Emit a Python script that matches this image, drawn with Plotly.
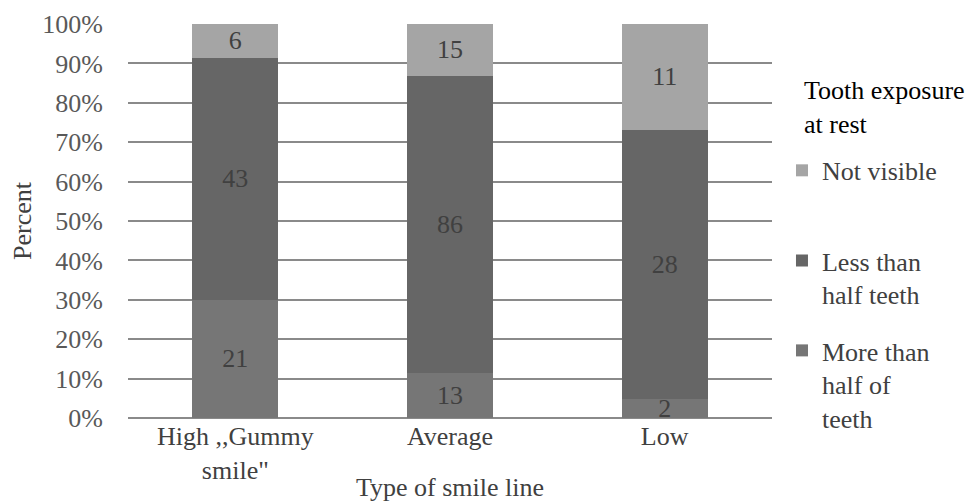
import plotly.graph_objects as go

categories = ['High ,,Gummy<br>smile"', "Average", "Low"]
more_than_half = [21, 13, 2]
less_than_half = [43, 86, 28]
not_visible = [6, 15, 11]
series_names = ["More than<br>half of<br>teeth", "Less than<br>half teeth", "Not visible"]
legend_title = "Tooth exposure<br>at rest"
y_ticks = [0, 10, 20, 30, 40, 50, 60, 70, 80, 90, 100]
y_ticktext = [f"{v}%" for v in y_ticks]

FONT = "Liberation Serif"
FS = 26
colors = ["#767676", "#666666", "#a5a5a5"]
legend_ids = ["legend3", "legend2", "legend"]

fig = go.Figure()
for i, (name, vals) in enumerate(zip(series_names, [more_than_half, less_than_half, not_visible])):
    fig.add_trace(go.Bar(
        x=categories, y=vals, name=name,
        marker=dict(color=colors[i], line=dict(width=0)),
        text=vals, textposition="inside", insidetextanchor="middle", textangle=0,
        textfont=dict(family=FONT, size=FS, color="#404040"),
        legend=legend_ids[i],
    ))

leg_common = dict(
    x=1.0155, xanchor="left", yanchor="top", valign="top",
    font=dict(family=FONT, size=FS, color="#404040"),
    bgcolor="rgba(0,0,0,0)", borderwidth=0,
)

# page body has an 8px margin, so the figure is sized/offset to compensate
fig.update_layout(
    barmode="stack", barnorm="percent", bargap=0.6,
    width=968, height=494,
    margin=dict(l=120, r=204, t=16, b=84, autoexpand=False),
    paper_bgcolor="white", plot_bgcolor="white",
    font=dict(family=FONT, size=FS, color="#404040"),
    uniformtext=dict(minsize=FS, mode="show"),
    showlegend=True,
    legend=dict(y=0.688, **leg_common),
    legend2=dict(y=0.459, **leg_common),
    legend3=dict(y=0.231, **leg_common),
    annotations=[dict(
        text=legend_title, xref="paper", yref="paper",
        x=1.046, y=0.789, xanchor="left", yanchor="middle", align="left",
        showarrow=False, font=dict(family=FONT, size=FS, color="#000000"),
    )],
    xaxis=dict(
        title=dict(text="Type of smile line", font=dict(family=FONT, size=FS, color="#404040"), standoff=2),
        tickfont=dict(family=FONT, size=FS, color="#404040"),
        showline=False, showgrid=False, ticks="", automargin=False,
    ),
    yaxis=dict(
        title=dict(text="Percent", font=dict(family=FONT, size=FS, color="#404040"), standoff=10),
        range=[0, 100], tickmode="array", tickvals=y_ticks, ticktext=y_ticktext,
        tickfont=dict(family=FONT, size=FS, color="#595959"),
        showgrid=True, gridcolor="#8a8a8a", gridwidth=1.5,
        zeroline=True, zerolinecolor="#8a8a8a", zerolinewidth=1.5,
        showline=False, ticks="", ticklabelstandoff=24, automargin=False,
    ),
)

fig.write_html("out.html")
